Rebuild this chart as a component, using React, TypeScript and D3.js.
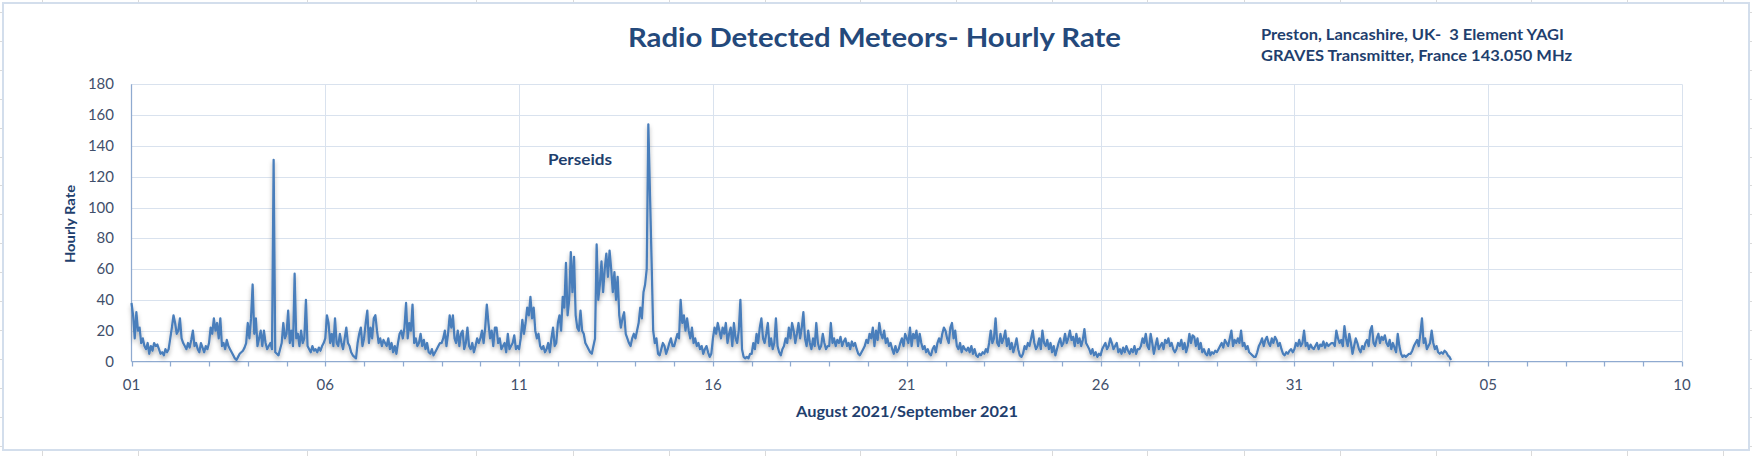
import React, { useRef, useEffect } from 'react';
import * as d3 from 'd3';

const width = 1752;
const height = 456;

const chartTitle = 'Radio Detected Meteors- Hourly Rate';
const stationLines = [
  'Preston, Lancashire, UK-  3 Element YAGI',
  'GRAVES Transmitter, France 143.050 MHz',
];
const xTitle = 'August 2021/September 2021';
const yTitle = 'Hourly Rate';
const annotation = 'Perseids';

const yTicks = [0, 20, 40, 60, 80, 100, 120, 140, 160, 180];
const labelEveryDays = 5;
const totalDays = 40;

// hourly counts, one row per day, starting 01 Aug 2021 00:00
const augustRates = [
  [38, 30, 15, 32, 20, 22, 12, 15, 10, 8, 12, 5, 10, 7, 12, 10, 11, 8, 5, 6, 4, 8, 6, 8],
  [15, 22, 30, 25, 18, 20, 28, 15, 12, 10, 8, 12, 9, 14, 20, 10, 12, 8, 6, 12, 9, 6, 10, 8],
  [12, 22, 18, 28, 20, 25, 15, 28, 10, 12, 8, 14, 10, 8, 6, 4, 2, 1, 3, 5, 6, 7, 9, 12],
  [25, 15, 28, 50, 18, 28, 10, 15, 20, 10, 20, 12, 8, 10, 12, 8, 131, 6, 5, 4, 8, 12, 25, 15],
  [18, 33, 12, 20, 10, 57, 15, 18, 10, 20, 12, 15, 40, 10, 8, 6, 10, 7, 8, 6, 9, 7, 10, 12],
  [15, 30, 25, 12, 18, 10, 28, 12, 10, 18, 12, 8, 15, 22, 12, 10, 6, 4, 3, 2, 12, 18, 22, 10],
  [15, 25, 33, 12, 22, 15, 28, 30, 20, 12, 15, 10, 14, 12, 10, 15, 8, 12, 6, 10, 5, 12, 18, 20],
  [15, 22, 38, 15, 25, 20, 37, 12, 15, 10, 12, 18, 10, 14, 8, 12, 6, 5, 8, 4, 6, 8, 10, 12],
  [12, 15, 20, 10, 18, 30, 22, 30, 15, 12, 20, 10, 18, 20, 8, 12, 22, 10, 8, 12, 6, 10, 15, 12],
  [15, 20, 12, 22, 37, 25, 15, 20, 10, 22, 22, 12, 15, 8, 10, 12, 6, 18, 8, 10, 12, 17, 8, 10],
  [8, 15, 27, 18, 25, 35, 30, 42, 28, 35, 20, 15, 18, 10, 8, 10, 6, 8, 12, 6, 15, 22, 10, 12],
  [25, 30, 20, 42, 35, 64, 30, 40, 71, 45, 68, 30, 22, 20, 33, 20, 18, 12, 10, 8, 6, 5, 10, 15],
  [76, 40, 50, 65, 45, 60, 70, 55, 72, 60, 45, 58, 40, 55, 30, 22, 28, 32, 18, 15, 12, 10, 15, 18],
  [15, 20, 25, 35, 28, 45, 50, 60, 154, 110, 66, 20, 12, 15, 5, 4, 8, 12, 10, 5, 8, 12, 15, 10],
  [10, 14, 18, 15, 40, 25, 30, 20, 28, 20, 15, 22, 12, 15, 10, 12, 8, 10, 5, 8, 10, 6, 3, 5],
  [15, 22, 18, 25, 20, 15, 22, 18, 25, 12, 18, 22, 10, 25, 15, 12, 20, 40, 8, 3, 2, 3, 2, 5],
  [5, 12, 8, 18, 12, 22, 28, 15, 12, 18, 25, 10, 15, 8, 12, 28, 10, 6, 4, 8, 10, 15, 12, 22],
  [15, 25, 20, 12, 18, 25, 15, 22, 32, 15, 10, 20, 12, 8, 15, 10, 25, 12, 8, 10, 18, 12, 8, 10],
  [10, 25, 12, 15, 10, 14, 12, 16, 10, 13, 15, 10, 12, 8, 13, 10, 12, 8, 5, 4, 6, 8, 10, 14],
  [12, 18, 15, 22, 10, 20, 14, 25, 18, 15, 20, 12, 15, 10, 12, 8, 5, 10, 6, 8, 12, 15, 10, 18],
  [15, 12, 22, 10, 18, 15, 20, 10, 18, 12, 8, 10, 6, 8, 5, 4, 8, 10, 6, 12, 15, 12, 18, 22],
  [20, 15, 12, 22, 25, 15, 20, 10, 8, 12, 6, 10, 8, 7, 9, 6, 10, 5, 8, 4, 3, 5, 4, 6],
  [5, 8, 6, 12, 20, 12, 15, 28, 12, 10, 18, 12, 15, 20, 10, 15, 8, 12, 6, 10, 15, 8, 4, 3],
  [5, 10, 8, 12, 10, 15, 20, 12, 8, 10, 15, 8, 20, 12, 10, 14, 8, 12, 6, 10, 4, 8, 12, 15],
  [10, 12, 18, 12, 15, 20, 14, 16, 10, 18, 12, 15, 10, 14, 21, 12, 10, 8, 5, 8, 4, 6, 3, 5],
  [4, 8, 10, 12, 8, 10, 15, 12, 8, 10, 12, 6, 8, 5, 9, 6, 10, 7, 5, 8, 6, 10, 5, 8],
  [8, 10, 15, 12, 18, 10, 8, 18, 12, 5, 10, 15, 8, 10, 12, 8, 14, 12, 15, 10, 12, 8, 6, 8],
  [12, 10, 14, 8, 12, 6, 10, 18, 12, 17, 16, 10, 15, 8, 12, 6, 8, 5, 4, 8, 4, 6, 5, 7],
  [6, 8, 10, 12, 9, 14, 12, 10, 15, 20, 10, 14, 12, 15, 12, 20, 10, 12, 8, 10, 6, 5, 4, 3],
  [3, 6, 10, 12, 15, 10, 14, 16, 12, 10, 15, 12, 16, 14, 10, 12, 8, 5, 4, 6, 5, 7, 8, 6],
  [8, 12, 10, 14, 10, 12, 20, 10, 12, 8, 11, 9, 8, 10, 12, 8, 11, 10, 13, 9, 12, 10, 11, 12],
];

const septemberRates = [
  [12, 10, 20, 15, 12, 14, 10, 23, 15, 10, 18, 12, 5, 10, 15, 12, 8, 6, 10, 8, 12, 14, 10, 20],
  [23, 12, 10, 15, 18, 12, 16, 14, 17, 12, 10, 14, 8, 12, 9, 6, 18, 10, 5, 3, 4, 3, 4, 5],
  [5, 7, 10, 12, 14, 10, 18, 28, 12, 15, 8, 10, 12, 20, 12, 8, 10, 6, 5, 6, 5, 7, 6, 4],
  [3, 1],
];

const font = 'Lato, "Open Sans", sans-serif';

const App = () => {
  const svgRef = useRef<SVGSVGElement>(null);

  useEffect(() => {
    const svg = d3.select(svgRef.current);
    svg.selectAll('*').remove();

    const start = new Date(Date.UTC(2021, 7, 1));
    const end = d3.utcDay.offset(start, totalDays);
    const x = d3.scaleUtc().domain([start, end]).range([131.5, 1682]);
    const y = d3.scaleLinear().domain([0, 180]).range([361.5, 84.3]);

    const values = [...augustRates, ...septemberRates].flat();
    const series = values.map((v, i) => ({ date: d3.utcHour.offset(start, i), value: v }));

    // spreadsheet cells peeking out round the chart
    const sheet = svg.append('g').attr('stroke', '#dadada').attr('stroke-width', 1);
    const cols = [42, 138, 307, 476, 573, 669, 765, 860, 956, 1052, 1147, 1244, 1340, 1436, 1531, 1627, 1723];
    cols.forEach(c => sheet.append('line').attr('x1', c + 0.5).attr('x2', c + 0.5).attr('y1', 0).attr('y2', height));
    d3.range(12, height, 28.9).forEach(r =>
      sheet.append('line').attr('x1', 0).attr('x2', width).attr('y1', Math.round(r) + 0.5).attr('y2', Math.round(r) + 0.5));

    svg.append('rect')
      .attr('x', 3).attr('y', 3).attr('width', 1746).attr('height', 447)
      .attr('fill', '#fff').attr('stroke', '#d3deec').attr('stroke-width', 2);

    const defs = svg.append('defs');
    const f = defs.append('filter').attr('id', 'shadow')
      .attr('x', '-5%').attr('y', '-10%').attr('width', '110%').attr('height', '130%');
    f.append('feDropShadow').attr('dx', 0).attr('dy', 3).attr('stdDeviation', 2)
      .attr('flood-color', '#000').attr('flood-opacity', 0.3);

    // gridlines
    const grid = svg.append('g').attr('stroke', '#d9e2ee').attr('stroke-width', 1);
    yTicks.filter(t => t > 0).forEach(t =>
      grid.append('line').attr('x1', x(start)).attr('x2', x(end))
        .attr('y1', Math.round(y(t)) + 0.5).attr('y2', Math.round(y(t)) + 0.5));
    const majorDays = d3.range(0, totalDays + 1, labelEveryDays).map(d => d3.utcDay.offset(start, d));
    majorDays.slice(1).forEach(d =>
      grid.append('line').attr('x1', Math.round(x(d)) + 0.5).attr('x2', Math.round(x(d)) + 0.5)
        .attr('y1', y(180)).attr('y2', y(0)));

    // axes
    const axisColor = '#8faad0';
    svg.append('line').attr('x1', x(start)).attr('x2', x(start)).attr('y1', y(180)).attr('y2', y(0))
      .attr('stroke', axisColor).attr('stroke-width', 1.25);
    svg.append('line').attr('x1', x(start)).attr('x2', x(end)).attr('y1', y(0)).attr('y2', y(0))
      .attr('stroke', axisColor).attr('stroke-width', 1.25);
    d3.range(0, totalDays + 1).forEach(d => {
      const px = Math.round(x(d3.utcDay.offset(start, d))) + 0.5;
      svg.append('line').attr('x1', px).attr('x2', px).attr('y1', y(0)).attr('y2', y(0) + 5)
        .attr('stroke', axisColor).attr('stroke-width', 1.25);
    });

    const tickColor = '#3f4f6b';
    const fmt = d3.utcFormat('%d');
    svg.append('g').selectAll('text').data(majorDays).enter().append('text')
      .attr('x', d => x(d)).attr('y', 390)
      .attr('text-anchor', 'middle').attr('font-family', font).attr('font-size', 15)
      .attr('fill', tickColor).text(d => fmt(d));
    svg.append('g').selectAll('text').data(yTicks).enter().append('text')
      .attr('x', 114).attr('y', d => y(d) + 5)
      .attr('text-anchor', 'end').attr('font-family', font).attr('font-size', 15)
      .attr('fill', tickColor).text(d => d);

    // series
    const line = d3.line<{ date: Date; value: number }>()
      .x(d => x(d.date)).y(d => y(d.value));
    svg.append('path').datum(series)
      .attr('d', line).attr('fill', 'none')
      .attr('stroke', '#4a7ebb').attr('stroke-width', 2.25).attr('stroke-linejoin', 'round')
      .attr('filter', 'url(#shadow)');

    // texts
    const ink = '#24497b';
    svg.append('text').attr('x', 628).attr('y', 46.5).attr('font-family', font).attr('font-weight', 700)
      .attr('font-size', 27).attr('fill', ink).attr('textLength', 493).attr('lengthAdjust', 'spacingAndGlyphs')
      .text(chartTitle);
    svg.append('g').selectAll('text').data(stationLines).enter().append('text')
      .attr('x', 1261).attr('y', (d, i) => 40 + i * 20.5)
      .attr('font-family', font).attr('font-weight', 700).attr('font-size', 14.5).attr('fill', '#1f3f6e')
      .attr('xml:space', 'preserve').style('white-space', 'pre')
      .attr('textLength', (d, i) => (i === 0 ? 303 : 311)).attr('lengthAdjust', 'spacingAndGlyphs')
      .text(d => d);
    svg.append('text').attr('x', 907).attr('y', 417).attr('text-anchor', 'middle')
      .attr('font-family', font).attr('font-weight', 700).attr('font-size', 14.5).attr('fill', '#1f3f6e')
      .attr('textLength', 222).attr('lengthAdjust', 'spacingAndGlyphs').text(xTitle);
    svg.append('text').attr('transform', 'translate(75,224) rotate(-90)').attr('text-anchor', 'middle')
      .attr('font-family', font).attr('font-weight', 700).attr('font-size', 14).attr('fill', '#1f3f6e')
      .attr('textLength', 78).attr('lengthAdjust', 'spacingAndGlyphs').text(yTitle);
    svg.append('text').attr('x', 548).attr('y', 165)
      .attr('font-family', font).attr('font-weight', 700).attr('font-size', 15).attr('fill', '#1f3f6e')
      .attr('textLength', 64).attr('lengthAdjust', 'spacingAndGlyphs').text(annotation);
  }, []);

  return (
    <svg ref={svgRef} width={width} height={height}
      style={{ position: 'absolute', left: 0, top: 0, background: '#fff' }} />
  );
};

export default App;
